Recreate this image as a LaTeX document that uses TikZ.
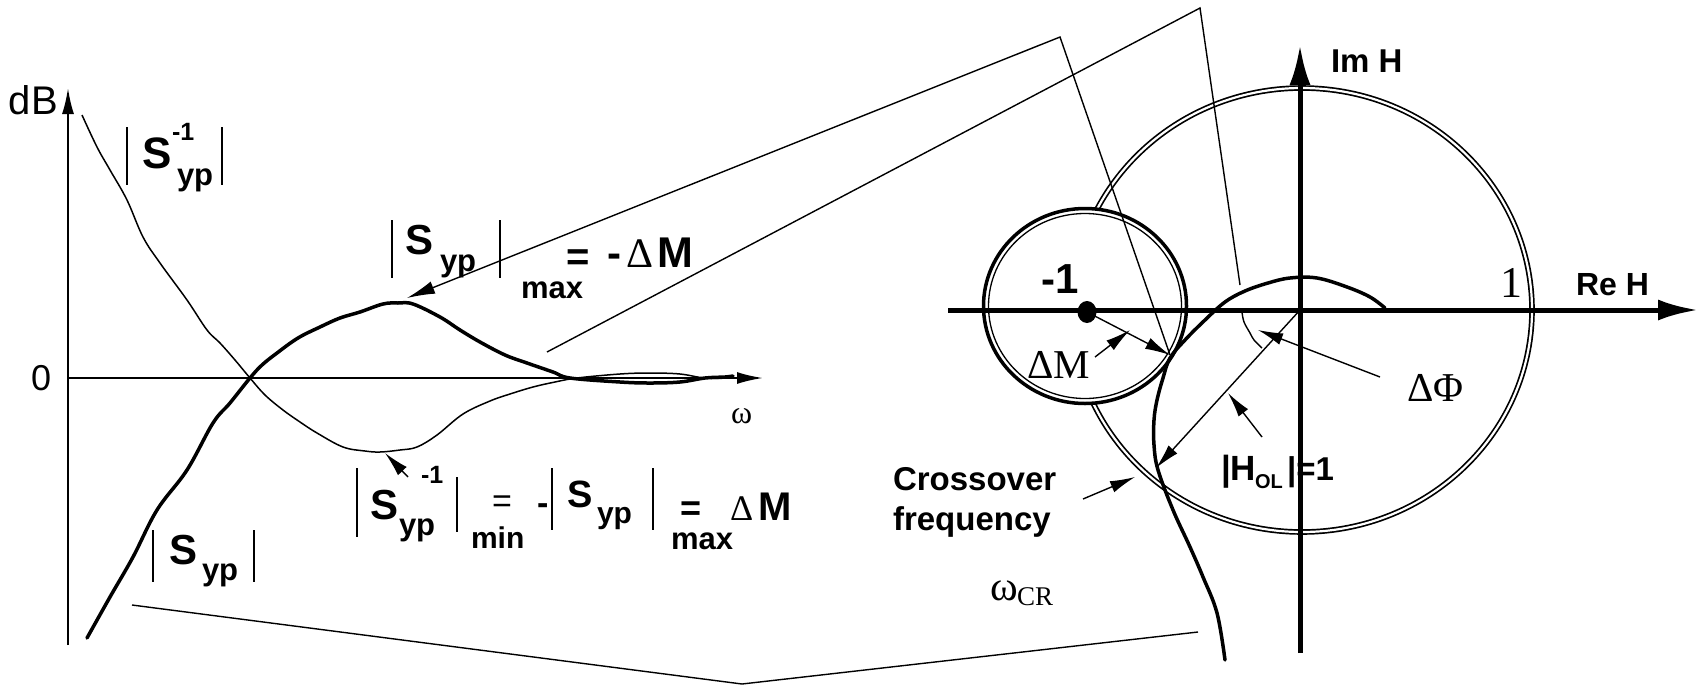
\documentclass[tikz,border=0pt]{standalone}
\usepackage{fontspec}
\setmainfont{Liberation Serif}
\newfontfamily\ar{Liberation Sans}
\newfontfamily\tm{Liberation Serif}
\usetikzlibrary{arrows.meta}
\newcommand\fsz[1]{\fontsize{#1}{#1}\selectfont}
\tikzset{
  lbl/.style={inner sep=0pt, outer sep=0pt, anchor=base west},
  sbold/.style={lbl, font=\ar\bfseries\fsz{#1}},
  sreg/.style={lbl, font=\ar\fsz{#1}},
  serif/.style={lbl, font=\tm\fsz{#1}},
  bar/.style={line width=1.8pt},
  thinln/.style={line width=1.4pt},
  thickc/.style={line width=3.5pt, line join=round, line cap=round},
  thinc/.style={line width=1.5pt, line join=round},
  arr/.style={line width=1.4pt, -{Latex[length=25pt,width=12pt]}},
  arrS/.style={line width=1.4pt, {Latex[length=28pt,width=13pt]}-},
  axL/.style={line width=2pt, -{Latex[length=26pt,width=12pt]}},
  axR/.style={line width=5pt, -{Latex[length=40pt,width=21pt]}},
  bigc/.style={line width=1.7pt, double, double distance=2.2pt},
}
\begin{document}
\begin{tikzpicture}[x=1pt,y=-1pt]
\useasboundingbox (0,0) rectangle (1699,686);

% ---------------- left plot ----------------
\coordinate (yb) at (68,645);
\coordinate (yt) at (68,88);
\coordinate (xl) at (68,378);
\coordinate (xr) at (763,378);
\draw[axL] (yb) -- (yt);
\draw[axL] (xl) -- (xr);
\node[sreg=40] (dB) at (9,114) {dB};
\node[sreg=36] (zero) at (31,390) {0};
\node[serif=32] (w) at (731,423) {ω};

% |S^-1| curve (thin)
\draw[thinc] plot[smooth, tension=0.6] coordinates {
 (82,115) (97,147) (110,170) (127,200) (143,237) (160,263) (187,300)
 (207,330) (220,343) (235,360) (250,378) (265,395) (283,410) (300,422)
 (317,433) (343,447) (365,451) (380,452) (400,450) (417,447) (437,435)
 (463,414) (490,401) (510,394) (533,387) (555,382) (577,378)
 (620,374) (650,373) (680,374) (705,378) (732,378)};
% |S| curve (thick)
\draw[thickc] plot[smooth, tension=0.6] coordinates {
 (87,638) (110,597) (133,557) (157,510) (187,470) (213,423)
 (230,403) (250,378) (262,365) (277,353)
 (298,338) (320,327) (340,318) (360,312) (383,304) (398,303) (413,304)
 (440,317) (460,330) (480,342) (505,355) (527,363) (553,372)
 (570,378) (620,382) (650,383) (680,382) (705,378) (725,377) (733,376)};

% label A : |S^-1_yp|
\draw[bar] (127,127) -- (127,185);
\draw[bar] (222,127) -- (222,185);
\node[sbold=44] (AS) at (142,168) {S};
\node[sbold=25] (Asup) at (172,140) {-1};
\node[sbold=31] (Asub) at (177,185) {yp};

% label B : |S_yp|max = - DM
\draw[bar] (392,220) -- (392,278);
\draw[bar] (500,220) -- (500,278);
\node[sbold=42] (BS) at (405,254) {S};
\node[sbold=31] (Bsub) at (440,271) {yp};
\node[sbold=31] (Bmax) at (521,298) {max};
\node[sbold=40] (Beq) at (566,270) {=};
\node[sbold=42] (Bmin) at (607,267) {-};
\node[serif=42] (BD) at (626,267) {Δ};
\node[sbold=43] (BM) at (657,267) {M};

% label C : |S^-1_yp|min = -|S_yp|max = DM
\draw[bar] (357,468) -- (357,537);
\draw[bar] (457,477) -- (457,532);
\draw[bar] (552,468) -- (552,530);
\draw[bar] (653,468) -- (653,530);
\node[sbold=42] (CS) at (370,519) {S};
\node[sbold=25] (Csup) at (421,483) {-1};
\node[sbold=31] (Csub) at (399,535) {yp};
\node[sreg=34] (Ceq) at (492,512) {=};
\node[sbold=30] (Cmin) at (471,548) {min};
\node[sbold=34] (Cneg) at (537,514) {-};
\node[sbold=38] (CS2) at (567,507) {S};
\node[sbold=30] (Csub2) at (597,523) {yp};
\node[sbold=36] (Ceq2) at (680,520) {=};
\node[sbold=31] (Cmax) at (671,549) {max};
\node[serif=36] (CD) at (730,520) {Δ};
\node[sbold=40] (CM) at (758,520) {M};
\coordinate (Cfrom) at (408,477);
\coordinate (Smin) at (385,453);
\draw[arr] (Cfrom) -- (Smin);

% label D : |S_yp|
\draw[bar] (153,530) -- (153,582);
\draw[bar] (254,530) -- (254,582);
\node[sbold=42] (DS) at (169,564) {S};
\node[sbold=31] (Dsub) at (202,580) {yp};

% ---------------- right plot ----------------
\draw[bigc] (1302,310) ellipse [x radius=230pt, y radius=222pt];
\filldraw[fill=white, line width=3.5pt] (1085,306) ellipse [x radius=101.5pt, y radius=97.5pt];
\draw[line width=1.3pt] (1085,306) ellipse [x radius=96.5pt, y radius=92.5pt];

\coordinate (O) at (1300,310);
\coordinate (reL) at (948,310);
\coordinate (reR) at (1698,310);
\coordinate (imB) at (1300,653);
\coordinate (imT) at (1300,45);
\draw[axR] (reL) -- (reR);
\draw[axR] (imB) -- (imT);

% Nyquist curve
\draw[thickc] plot[smooth, tension=0.6] coordinates {
 (1225,660) (1217,613) (1203,577) (1190,547) (1173,510) (1158,470)
 (1154,445) (1154,420) (1157,400) (1163,378) (1170,358) (1185,340)
 (1205,320) (1225,302) (1245,291) (1268,283) (1290,278)
 (1317,278) (1347,287) (1370,297) (1385,308)};

% point -1
\fill (1087,312) ellipse [x radius=9.5pt, y radius=11pt];
\coordinate (m1) at (1087,312);
\coordinate (Pm) at (1170,355);
\draw[arr] (m1) -- (Pm);

% connecting lines
\coordinate (pk) at (407,298);
\coordinate (V1) at (1060,37);
\draw[arrS] (pk) -- (V1) -- (Pm);
\coordinate (L2a) at (547,352);
\coordinate (V2) at (1200,8);
\coordinate (L2b) at (1240,285);
\draw[thinln] (L2a) -- (V2) -- (L2b);
\coordinate (L3a) at (132,605);
\coordinate (V3) at (742,684);
\coordinate (L3b) at (1198,632);
\draw[thinln] (L3a) -- (V3) -- (L3b);

% crossover
\coordinate (X) at (1156,468);
\draw[arr] (O) -- (X);
% phase arc
\draw[thinln] plot[smooth, tension=0.6] coordinates {(1242,312) (1244,322) (1250,333) (1254,340) (1262,348)};

% labels right
\node[sbold=42] (mone) at (1041,293) {-1};
\node[serif=41] (DM) at (1027,378) {ΔM};
\coordinate (DMa) at (1095,357);
\coordinate (DMb) at (1130,330);
\draw[arr] (DMa) -- (DMb);
\node[serif=41] (DP) at (1407,401) {ΔΦ};
\coordinate (DPa) at (1380,377);
\coordinate (DPb) at (1258,330);
\draw[arr] (DPa) -- (DPb);
\node[serif=44] (one) at (1500,297) {1};
\node[sbold=32] (ReH) at (1576,295) {Re H};
\node[sbold=33] (ImH) at (1331,72) {Im H};
\node[sbold=35] (H1) at (1221,480) {|H};
\node[sbold=20] (Hsub) at (1255,488) {OL};
\node[sbold=33] (H2) at (1287,480) {|=1};
\coordinate (Ha) at (1262,437);
\coordinate (Hb) at (1228,393);
\draw[arr] (Ha) -- (Hb);
\node[sbold=33] (cr1) at (893,490) {Crossover};
\node[sbold=33] (cr2) at (893,530) {frequency};
\coordinate (cra) at (1083,499);
\coordinate (crb) at (1135,477);
\draw[arr] (cra) -- (crb);
\node[serif=42] (wcr) at (990,600) {ω};
\node[serif=27] (wcrs) at (1017,605) {CR};
\end{tikzpicture}
\end{document}
